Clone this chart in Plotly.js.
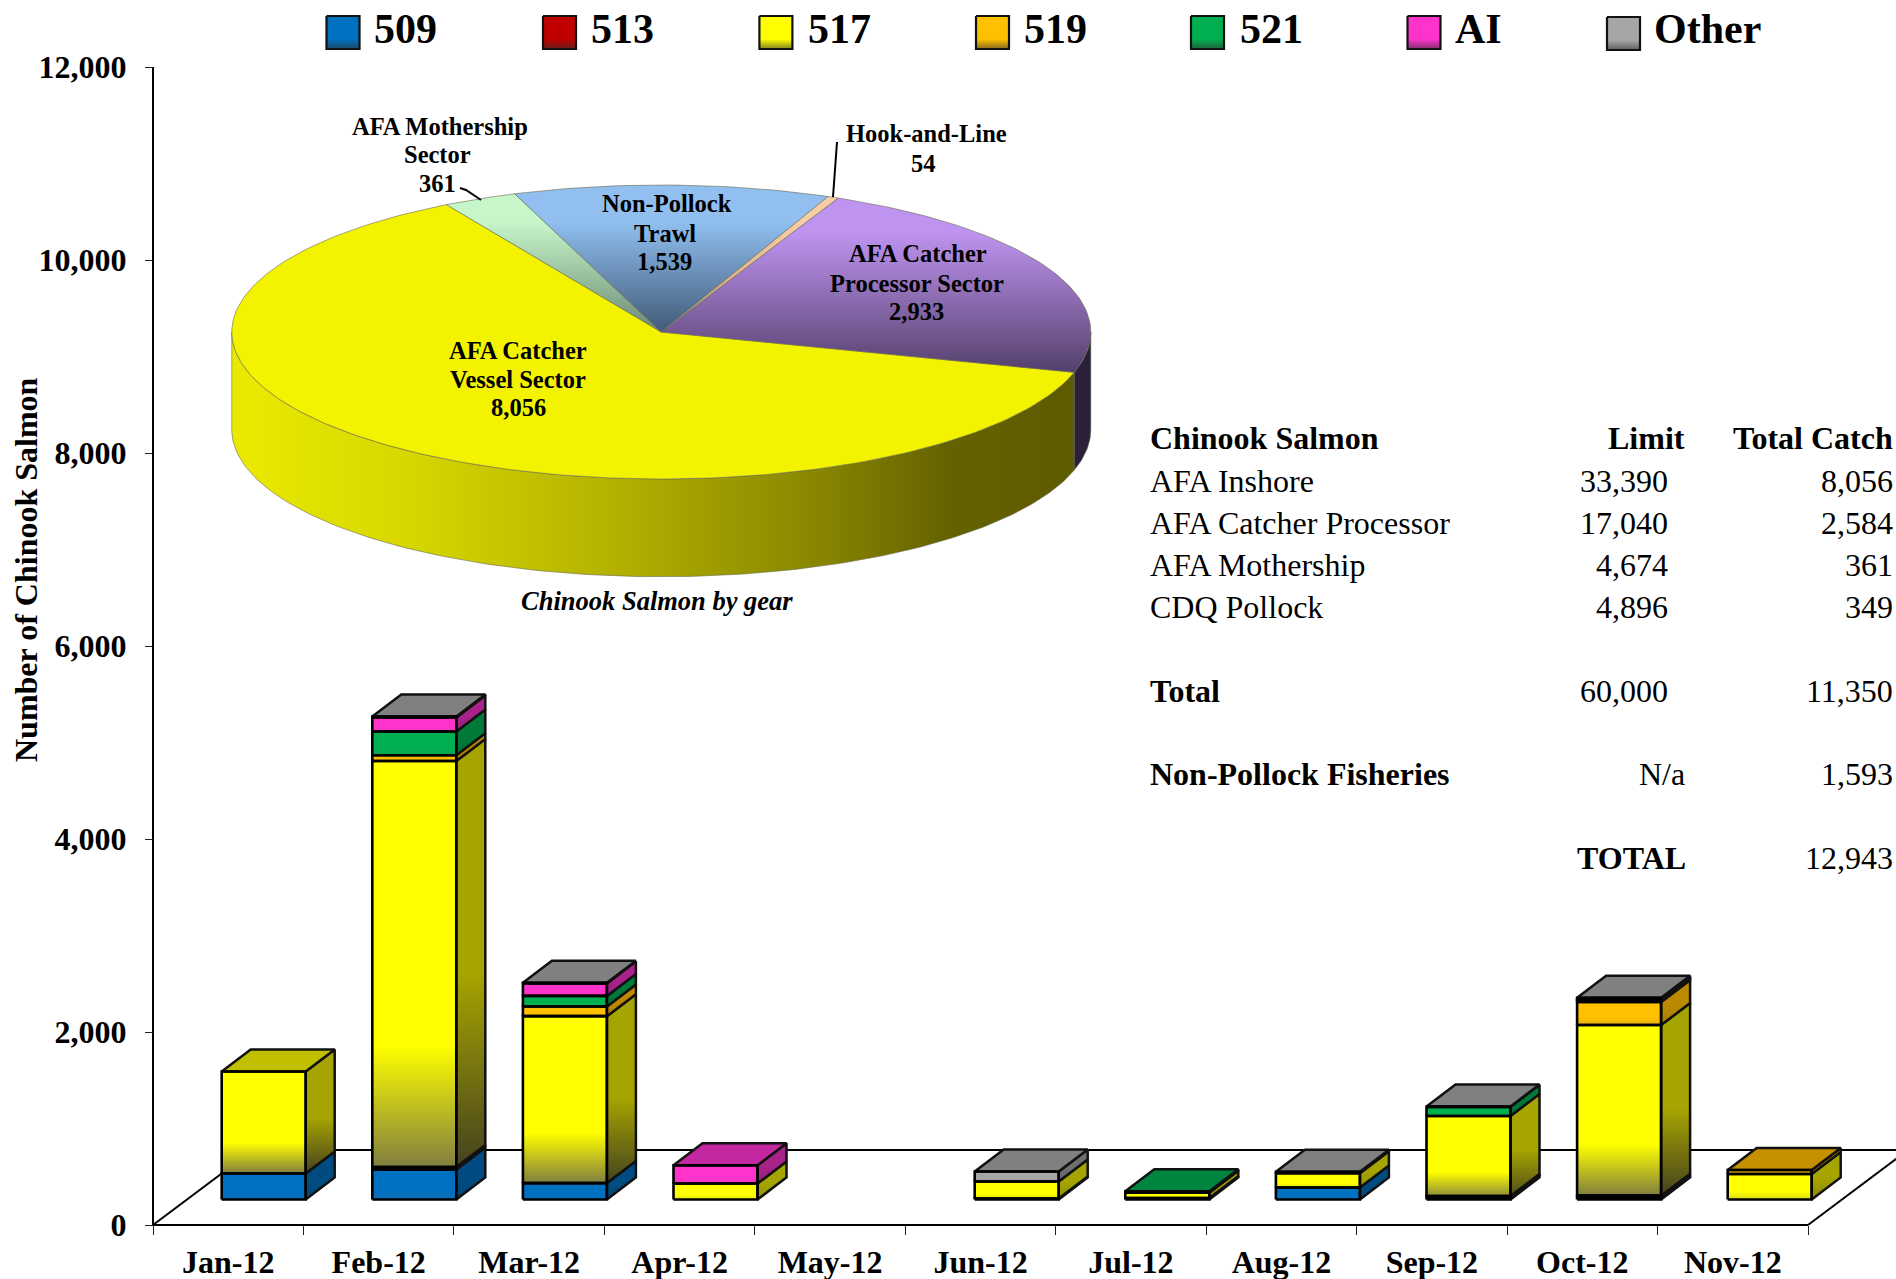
<!DOCTYPE html>
<html>
<head>
<meta charset="utf-8">
<script src="https://cdn.plot.ly/plotly-3.0.1.min.js"></script>
<style>html,body{margin:0;padding:0;background:#fff}#chart{width:1896px;height:1279px}</style>
</head>
<body>
<div id="chart"></div>
<script>
// ---------- data ----------
const months = ['Jan-12','Feb-12','Mar-12','Apr-12','May-12','Jun-12','Jul-12','Aug-12','Sep-12','Oct-12','Nov-12'];
const seriesNames = ['509','513','517','519','521','AI','Other'];
const area509   = [270,311,170,  0,0, 10,15,125, 25, 15,  0];
const area513   = [  0, 25,  0,  0,0,  0, 0,  0, 10, 25,  0];
const area517   = [1056,4208,1730,166,0,177,55,147,831,1768,265];
const area519   = [  0, 60,100,  0,0,  0, 0,  0,  0,239, 40];
const area521   = [  0,246,110,  0,0,  0,15,  0, 94, 12,  0];
const areaAI    = [  0,145,128,188,0,  0, 0,  0,  0, 12,  0];
const areaOther = [  0, 10,  8,  0,0,103, 0, 15,  5, 20,  0];
const pieLabels = ['AFA Catcher Vessel Sector','AFA Mothership Sector','Non-Pollock Trawl','Hook-and-Line','AFA Catcher Processor Sector'];
const pieValues = [8056,361,1539,54,2933];
const tableRows = [
  ['Chinook Salmon','Limit','Total Catch'],
  ['AFA Inshore','33,390','8,056'],
  ['AFA Catcher Processor','17,040','2,584'],
  ['AFA Mothership','4,674','361'],
  ['CDQ Pollock','4,896','349'],
  ['Total','60,000','11,350'],
  ['Non-Pollock Fisheries','N/a','1,593'],
  ['','TOTAL','12,943']
];
// ---------- styles ----------
const frontColors = ['#0070c0','#c00000','#ffff00','#ffc000','#00b050','#ff33cc','#a6a6a6'];
const sideColors  = ['#004c82','#820000','#a6a400','#bc8a00','#007a38','#a8228a','#6f6f6f'];
const topColors   = ['#00609f','#9f0000','#c0c000','#c49000','#008540','#c428a0','#808080'];
const tintColors  = ['#2c6a9c','#803040','#807e40','#a08030','#308a60','#a04090','#505050'];
const sideTints   = ['#0a3a60','#501010','#45421f','#705010','#0a4a28','#601050','#303030'];
const W=1896, H=1279, L=153, R=1808, T=67, B=1225;   // value box in px
const unitsPerPx = 12000/(B-T), slotPx=(R-L)/11;
const X = px => (px-L)/slotPx;
const Y = py => (B-py)*unitsPerPx;
const PX = v => v/W;               // paper x
const PY = v => (H-v)/H;           // paper y
const floorY = 25.5*unitsPerPx, depthX = 29/slotPx, depthY = 22*unitsPerPx;
const barW = 84/slotPx, barLeft = 68.7/slotPx, barStep = 150.6/slotPx;
const allSeries = [area509,area513,area517,area519,area521,areaAI,areaOther];

function hex(c){return [1,3,5].map(i=>parseInt(c.substr(i,2),16));}
function mix(a,b,f){const A=hex(a),B=hex(b);return 'rgb('+A.map((v,i)=>Math.round(v*(1-f)+B[i]*f)).join(',')+')';}

const traces=[], frontOutline={x:[],y:[]};
// real stacked front faces
allSeries.forEach((vals,s)=>{
  let bases=months.map((m,i)=>{let b=floorY;for(let k=0;k<s;k++)b+=allSeries[k][i];return b;});
  traces.push({type:'bar',x:months.map((m,i)=>i*barStep+barLeft+barW/2),y:vals,base:bases,width:barW,
    name:seriesNames[s],showlegend:false,hoverinfo:'skip',
    marker:{color:frontColors[s],line:{color:'#000',width:0}}});
});
function poly(xs,ys,grad,fill,lineW,lineColor){
  const t={type:'scatter',mode:lineW?'lines':'none',x:xs.concat(xs[0]),y:ys.concat(ys[0]),fill:'toself',
    line:{color:lineColor||'#111',width:lineW||0},showlegend:false,hoverinfo:'skip',cliponaxis:false};
  if(fill)t.fillcolor=fill;
  if(grad)t.fillgradient=grad;
  return t;
}
months.forEach((m,i)=>{
  let cum=floorY, lastS=-1, xl=i*barStep+barLeft, xr=xl+barW;
  allSeries.forEach((vals,s)=>{
    const v=vals[i]; if(!v)return;
    const y0=cum,y1=cum+v,h=v/unitsPerPx,f=Math.min(1,Math.max(.2,h/90)); lastS=s;
    // front fade
    const top=y0+v*0.3;
    if(h>8) traces.push(poly([xl,xr,xr,xl],[y0,y0,top,top],
      {type:'vertical',start:top,stop:y0,colorscale:[[0,frontColors[s]],[1,mix(frontColors[s],tintColors[s],f)]]},frontColors[s]));
    // right side
    const st=y1+depthY, fadeTop=y0+(st-y0)*0.45;
    traces.push(poly([xr,xr+depthX,xr+depthX,xr],[y0,y0+depthY,y1+depthY,y1],
      {type:'vertical',start:fadeTop,stop:y0,colorscale:[[0,sideColors[s]],[1,mix(sideColors[s],sideTints[s],f)]]},sideColors[s],2.5));
    frontOutline.x.push(xl,xr,xr,xl,xl,null);
    frontOutline.y.push(y0,y0,y1,y1,y0,null);
    cum=y1;
  });
  if(lastS>=0) traces.push(poly([xl,xr,xr+depthX,xl+depthX],[cum,cum,cum+depthY,cum+depthY],null,topColors[lastS],2.5));
});
traces.push({type:'scatter',mode:'lines',x:frontOutline.x,y:frontOutline.y,line:{color:'#000',width:2.6},
  showlegend:false,hoverinfo:'skip',cliponaxis:false});

// ---------- 3-D pie drawn through the same axes ----------
const cx=661.3, cy=332, rx=429.5, ry=147, wall=97.7, startDeg=120;
const pieTotal=pieValues.reduce((a,b)=>a+b,0);
const pieTop=[null,['#c6f6ca','#6c8a72'],['#90bff0','#415a78'],['#f7cda6','#d0a070'],['#bf94f0','#54406c']];
const pieFlat=['#f3f300','#c6f6ca','#90bff0','#f7cda6','#bf94f0'];
function ept(deg,dy){const a=deg*Math.PI/180;return [cx+rx*Math.cos(a),cy-ry*Math.sin(a)+(dy||0)];}
const sweep=v=>v/pieTotal*360;
const a0=startDeg, yellowEnd=a0+sweep(pieValues[0]);  // 120 -> 344 (left, bottom, right)
function arc(a,b,dy){const n=Math.max(2,Math.ceil(Math.abs(b-a)));const p=[];for(let i=0;i<=n;i++)p.push(ept(a+(b-a)*i/n,dy));return p;}
// walls
{
  const w1=arc(180,yellowEnd,0), w2=arc(yellowEnd,180,wall);
  const pts=w1.concat(w2);
  traces.push(poly(pts.map(p=>X(p[0])),pts.map(p=>Y(p[1])),
    {type:'horizontal',start:X(232),stop:X(1075),colorscale:[[0,'#eaea00'],[.2,'#d8d800'],[.45,'#b4b200'],[.7,'#878500'],[.85,'#646200'],[1,'#5d5b00']]},'#aaa800',.6,'#6a6a50'));
  const w3=arc(yellowEnd,360,0), w4=arc(360,yellowEnd,wall);
  const p2=w3.concat(w4);
  traces.push(poly(p2.map(p=>X(p[0])),p2.map(p=>Y(p[1])),null,'#2a2038',.6,'#6a6a50'));
}
// top faces
{
  const pts=[[cx,cy]].concat(arc(a0,yellowEnd,0));
  traces.push(poly(pts.map(p=>X(p[0])),pts.map(p=>Y(p[1])),null,pieFlat[0],.6,'#6a6a50'));
  let cur=a0;
  for(let k=1;k<pieValues.length;k++){
    const next=cur-sweep(pieValues[k]);
    const q=[[cx,cy]].concat(arc(cur,next,0));
    traces.push(poly(q.map(p=>X(p[0])),q.map(p=>Y(p[1])),
      {type:'vertical',start:Y(185),stop:Y(k==4?372:cy),colorscale:[[0,pieTop[k][0]],[.25,pieTop[k][0]],[1,pieTop[k][1]]]},pieFlat[k],.6,'#6a6a50'));
    cur=next;
  }
}
// leader lines
traces.push({type:'scatter',mode:'lines',x:[460,466,481].map(X),y:[188,190,200].map(Y),line:{color:'#000',width:2},showlegend:false,hoverinfo:'skip',cliponaxis:false});
traces.push({type:'scatter',mode:'lines',x:[837,833].map(X),y:[142,197].map(Y),line:{color:'#000',width:2},showlegend:false,hoverinfo:'skip',cliponaxis:false});

// ---------- legend ----------
const legSwatch=[326.5,543,759.4,976,1191,1407.5,1607], legText=[371.5,589,806,1022,1238,1453,1652];
const ann=[];
seriesNames.forEach((n,s)=>{
  const x0=legSwatch[s],x1=x0+33,y0=s==6?17:16,y1=y0+33;
  traces.push(poly([x0,x1,x1,x0].map(X),[y0,y0,y1,y1].map(Y),
    {type:'vertical',start:Y(y0),stop:Y(y1),colorscale:[[0,frontColors[s]],[.7,frontColors[s]],[1,mix(frontColors[s],'#303030',.6)]]},frontColors[s],2.2,'#111'));
  ann.push({xref:'paper',yref:'paper',x:PX(legText[s]),y:PY(29),xanchor:'left',yanchor:'middle',text:'<b>'+n+'</b>',showarrow:false,font:{size:42}});
});

// ---------- text ----------
function label(text,x,y,size,fmt){ann.push({xref:'paper',yref:'paper',x:PX(x),y:PY(y),xanchor:'center',yanchor:'middle',showarrow:false,
  text:(fmt||'<b>')+text+(fmt?'</i></b>':'</b>'),font:{size:size}});}
[['AFA Catcher',518,350],['Vessel Sector',518,379],['8,056',518,408],
 ['AFA Catcher',918,254],['Processor Sector',917,283],['2,933',916,311],
 ['Non-Pollock',667,204],['Trawl',665,233],['1,539',664,262],
 ['AFA Mothership',440,126],['Sector',437,154],['361',437,183],
 ['Hook-and-Line',926,134],['54',923,163]].forEach(l=>label(l[0],l[1],l[2],24.5));
label('Chinook Salmon by gear',656.6,601,26.5,'<b><i>');
ann.push({xref:'paper',yref:'paper',x:PX(26),y:PY(570),xanchor:'center',yanchor:'middle',textangle:-90,showarrow:false,
  text:'<b>Number of Chinook Salmon</b>',font:{size:32}});

const rowBase=[449,491.5,533.5,575.5,617.5,701.5,785,869];
tableRows.forEach((r,i)=>{
  const bold=[0,5,6].includes(i), limBold=i==0||i==7, limRight=i==7?1686.5:(i==0||i==6)?1685.5:1668.5;
  const by=rowBase[i]+8;
  ann.push({xref:'paper',yref:'paper',x:PX(1149),y:PY(by),xanchor:'left',yanchor:'bottom',showarrow:false,borderpad:0,
    text:bold?'<b>'+r[0]+'</b>':r[0],font:{size:32}});
  ann.push({xref:'paper',yref:'paper',x:PX(limRight),y:PY(by),xanchor:'right',yanchor:'bottom',showarrow:false,borderpad:0,
    text:limBold?'<b>'+r[1]+'</b>':r[1],font:{size:32}});
  ann.push({xref:'paper',yref:'paper',x:PX(1894),y:PY(by),xanchor:'right',yanchor:'bottom',showarrow:false,borderpad:0,
    text:i==0?'<b>'+r[2]+'</b>':r[2],font:{size:32}});
});

// axis lines and floor outline go under the bars
const lineStyle={color:'#000',width:2};
const shapes=[
 {type:'line',xref:'x',yref:'y',x0:0,x1:11,y0:0,y1:0,line:lineStyle,layer:'below'},
 {type:'line',xref:'x',yref:'y',x0:0,x1:0,y0:0,y1:12000,line:lineStyle,layer:'below'},
 {type:'line',xref:'x',yref:'y',x0:0,x1:X(253),y0:0,y1:Y(1150),line:lineStyle,layer:'below'},
 {type:'line',xref:'x',yref:'y',x0:X(253),x1:X(1908),y0:Y(1150),y1:Y(1150),line:lineStyle,layer:'below'},
 {type:'line',xref:'x',yref:'y',x0:11,x1:X(1908),y0:0,y1:Y(1150),line:lineStyle,layer:'below'}
];

const tickFont={family:'"Liberation Serif",serif',size:32,color:'#000',weight:700};
const layout={
  width:W,height:H,autosize:false,paper_bgcolor:'#fff',plot_bgcolor:'rgba(0,0,0,0)',
  margin:{l:0,r:0,t:0,b:0,pad:0},showlegend:false,barmode:'overlay',
  font:{family:'"Liberation Serif",serif',color:'#000'},
  shapes:shapes,annotations:ann,
  xaxis:{range:[X(0),X(W)],anchor:'free',position:(H-B)/H,tickmode:'array',tickvals:months.map((m,i)=>i+.5),ticktext:months,ticks:'',
    tickfont:tickFont,showline:false,showgrid:false,zeroline:false,fixedrange:true,ticklabelstandoff:15,automargin:false,
    minor:{tickmode:'array',tickvals:months.map((m,i)=>i).concat(11),ticks:'outside',ticklen:9,tickwidth:1,tickcolor:'#222',showgrid:false}},
  yaxis:{range:[Y(H),Y(0)],anchor:'free',position:L/W,tickmode:'array',tickvals:[0,2000,4000,6000,8000,10000,12000],
    ticktext:['0','2,000','4,000','6,000','8,000','10,000','12,000'],ticks:'outside',ticklen:8,tickwidth:1,tickcolor:'#222',
    tickfont:tickFont,showline:false,showgrid:false,zeroline:false,fixedrange:true,ticklabelstandoff:12,automargin:false}
};
Plotly.newPlot('chart',traces,layout,{staticPlot:true,displayModeBar:false});
</script>
</body>
</html>
